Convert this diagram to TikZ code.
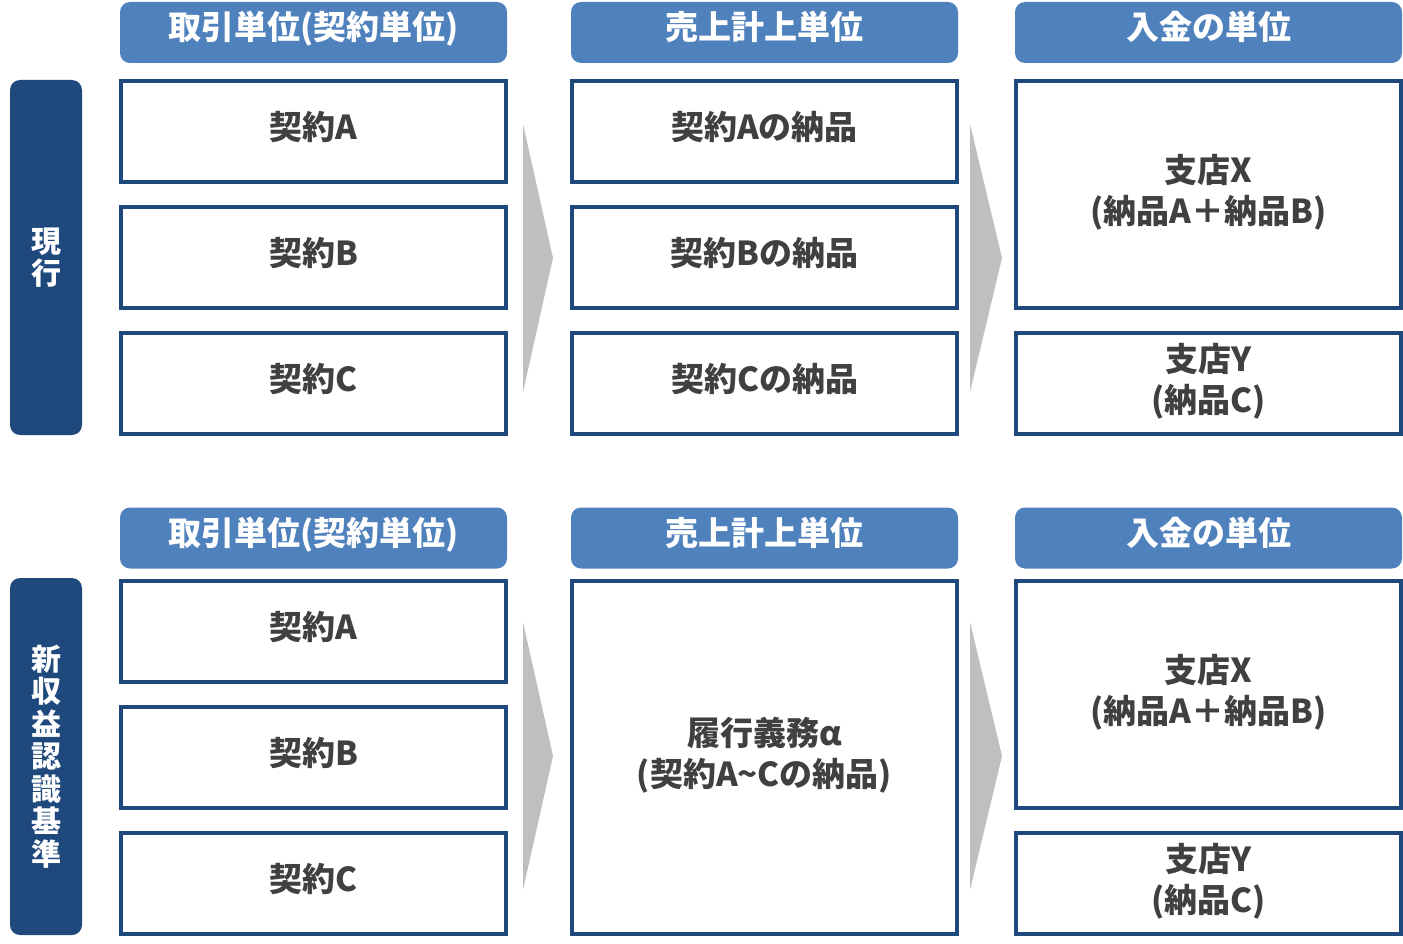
\documentclass[tikz,border=0pt]{standalone}
\usepackage{fontspec}
\setmainfont{Noto Sans CJK JP}
\definecolor{hdrblue}{HTML}{4F81BD}
\definecolor{navy}{HTML}{1F497D}
\definecolor{txtgray}{HTML}{404040}
\definecolor{chevgray}{HTML}{BFBFBF}
\begin{document}
\begin{tikzpicture}[x=1pt, y=-1pt,
  hdr/.style={fill=hdrblue, rounded corners=10pt, minimum width=387pt, minimum height=61pt,
    inner sep=0pt, text depth=14pt, text=white, font=\fontsize{33}{40}\selectfont\bfseries},
  cell/.style={draw=navy, line width=4pt, fill=white, minimum width=385pt, inner sep=0pt,
    text depth=12pt, text=txtgray, align=center, font=\fontsize{33}{41}\selectfont\bfseries},
  side/.style={fill=navy, rounded corners=10pt, minimum width=72pt, inner sep=0pt,
    text=white, align=center, font=\fontsize{30}{32.5}\selectfont\bfseries},
  chev/.style={fill=chevgray}]
  \useasboundingbox (0,0) rectangle (1403,944);

  % current practice
  \node[hdr] (tUnit) at (313.5,32.5) {取引単位(契約単位)};
  \node[hdr] (tSales) at (764.5,32.5) {売上計上単位};
  \node[hdr] (tPay) at (1208.5,32.5) {入金の単位};
  \node[side, minimum height=355pt] (tSide) at (46,257.5) {現\\行};
  \foreach \r/\y in {A/131.5, B/257.5, C/383.5} {
    \node[cell, minimum height=101pt] (tK\r) at (313.5,\y) {契約{\r}};
    \node[cell, minimum height=101pt] (tD\r) at (764.5,\y) {契約{\r}の納品};
  }
  \node[cell, minimum height=227pt] (tX) at (1208.5,194.5) {支店X\\(納品A＋納品B)};
  \node[cell, minimum height=101pt] (tY) at (1208.5,383.5) {支店Y\\(納品C)};
  \fill[chev] (523,124) -- (553,258) -- (523,392) -- cycle;
  \fill[chev] (970,124) -- (1002,258) -- (970,392) -- cycle;

  % new revenue recognition standard
  \node[hdr] (bUnit) at (313.5,538) {取引単位(契約単位)};
  \node[hdr] (bSales) at (764.5,538) {売上計上単位};
  \node[hdr] (bPay) at (1208.5,538) {入金の単位};
  \node[side, minimum height=357pt] (bSide) at (46,756.5) {新\\収\\益\\認\\識\\基\\準};
  \foreach \r/\y in {A/631.5, B/757.5, C/883.5} {
    \node[cell, minimum height=101pt] (bK\r) at (313.5,\y) {契約{\r}};
  }
  \node[cell, minimum height=353pt] (bDuty) at (764.5,757.5) {履行義務α\\(契約A{\textasciitilde}Cの納品)};
  \node[cell, minimum height=227pt] (bX) at (1208.5,694.5) {支店X\\(納品A＋納品B)};
  \node[cell, minimum height=101pt] (bY) at (1208.5,883.5) {支店Y\\(納品C)};
  \fill[chev] (523,622) -- (553,756) -- (523,890) -- cycle;
  \fill[chev] (970,622) -- (1002,756) -- (970,890) -- cycle;
\end{tikzpicture}
\end{document}
